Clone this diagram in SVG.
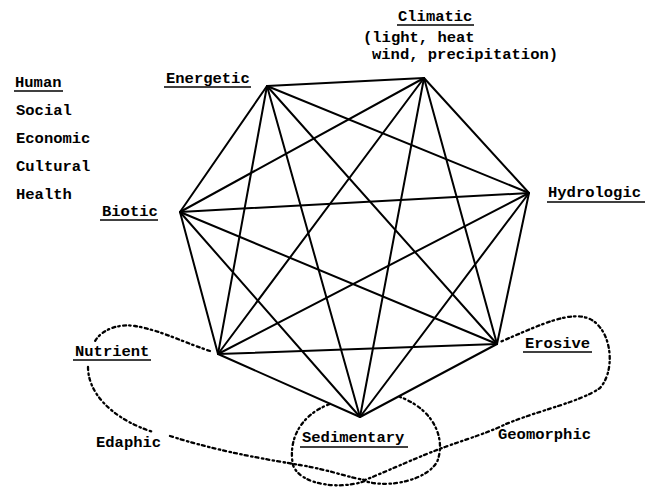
<svg xmlns="http://www.w3.org/2000/svg" width="651" height="491" viewBox="0 0 651 491">
<style>
text{font-family:"Liberation Mono","Courier New",monospace;font-weight:bold;font-size:15.5px;fill:#000}
.e{stroke:#000;stroke-width:2;fill:none;stroke-linecap:round}
.u{stroke:#000;stroke-width:1.5}
.d{stroke:#000;stroke-width:2.3;fill:none;stroke-dasharray:3 3.5 1.5 3;stroke-linecap:round}
</style>
<rect width="651" height="491" fill="#fff"/>
<g id="connectors">
<line class="e" x1="267" y1="86" x2="424" y2="78"/>
<line class="e" x1="267" y1="86" x2="529" y2="193"/>
<line class="e" x1="267" y1="86" x2="497" y2="344"/>
<line class="e" x1="267" y1="86" x2="360" y2="417"/>
<line class="e" x1="267" y1="86" x2="218" y2="354"/>
<line class="e" x1="267" y1="86" x2="180" y2="212"/>
<line class="e" x1="424" y1="78" x2="529" y2="193"/>
<line class="e" x1="424" y1="78" x2="497" y2="344"/>
<line class="e" x1="424" y1="78" x2="360" y2="417"/>
<line class="e" x1="424" y1="78" x2="218" y2="354"/>
<line class="e" x1="424" y1="78" x2="180" y2="212"/>
<line class="e" x1="529" y1="193" x2="497" y2="344"/>
<line class="e" x1="529" y1="193" x2="360" y2="417"/>
<line class="e" x1="529" y1="193" x2="218" y2="354"/>
<line class="e" x1="529" y1="193" x2="180" y2="212"/>
<line class="e" x1="497" y1="344" x2="360" y2="417"/>
<line class="e" x1="497" y1="344" x2="218" y2="354"/>
<line class="e" x1="497" y1="344" x2="180" y2="212"/>
<line class="e" x1="360" y1="417" x2="218" y2="354"/>
<line class="e" x1="360" y1="417" x2="180" y2="212"/>
<line class="e" x1="218" y1="354" x2="180" y2="212"/>
<path class="d" d="M210,351 C185,343 160,330 135,326 C115,323 99,332 94,343"/>
<path class="d" d="M88,367 C88,395 115,420 153,432"/>
<path class="d" d="M170,436 C220,452 270,460 300,465 C330,470 350,478 365,480 C390,470 420,456 445,447 C470,438 490,432 506,424 C540,410 580,402 600,388 C616,370 612,330 590,319 C570,310 540,325 500,342"/>
<path class="d" d="M330,404 C300,415 288,440 293,465 C300,485 340,490 365,481 C385,488 425,482 437,462 C446,440 435,410 400,397"/>
</g>
<g id="human">
<text x="15" y="87">Human</text><line class="u" x1="14" y1="91" x2="63" y2="91"/>
<text x="16" y="115">Social</text>
<text x="16" y="143">Economic</text>
<text x="16" y="171">Cultural</text>
<text x="16" y="199">Health</text>
</g>
<g id="climatic">
<text x="398" y="21">Climatic</text><line class="u" x1="397" y1="25" x2="474" y2="25"/>
<text x="363" y="42">(light, heat</text>
<text x="372" y="59">wind, precipitation)</text>
</g>
<g id="energetic"><text x="166" y="83">Energetic</text><line class="u" x1="164" y1="87" x2="251" y2="87"/></g>
<g id="biotic"><text x="102" y="216">Biotic</text><line class="u" x1="100" y1="220" x2="158" y2="220"/></g>
<g id="hydrologic"><text x="548" y="197">Hydrologic</text><line class="u" x1="547" y1="202" x2="645" y2="202"/></g>
<g id="nutrient"><text x="75" y="356">Nutrient</text><line class="u" x1="73" y1="360" x2="151" y2="360"/></g>
<g id="edaphic"><text x="96" y="447">Edaphic</text></g>
<g id="erosive"><text x="525" y="348">Erosive</text><line class="u" x1="523" y1="352" x2="592" y2="352"/></g>
<g id="geomorphic"><text x="498" y="439">Geomorphic</text></g>
<g id="sedimentary"><text x="302" y="442">Sedimentary</text><line class="u" x1="300" y1="447" x2="408" y2="447"/></g>
</svg>
